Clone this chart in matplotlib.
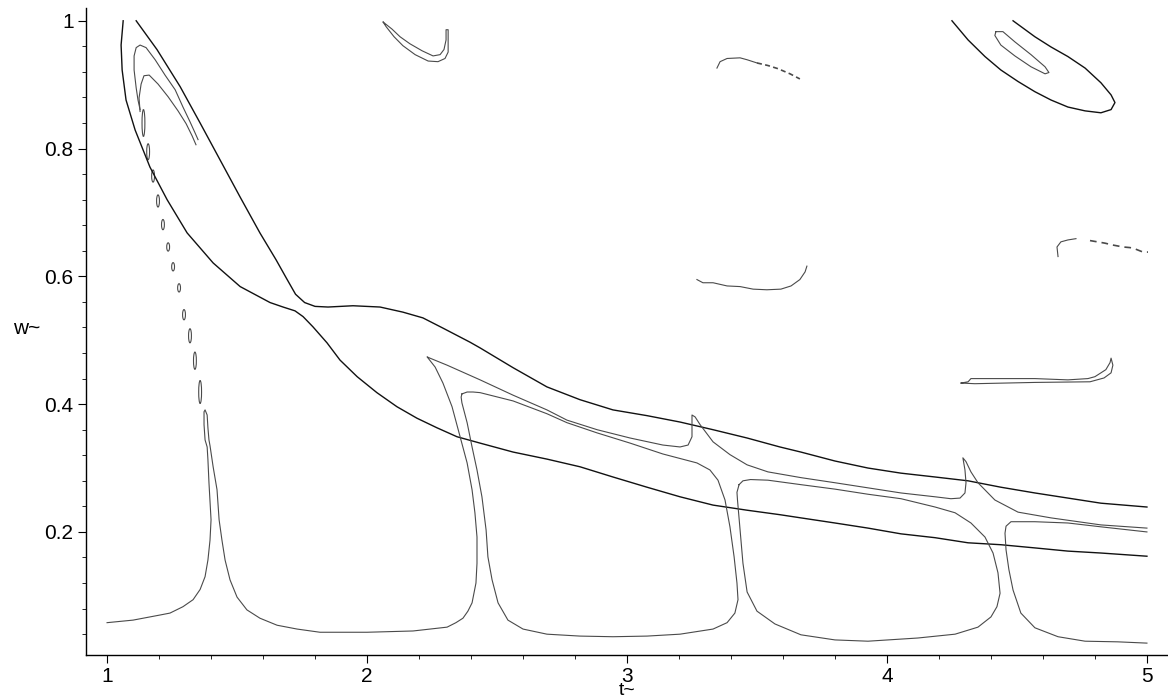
import matplotlib
matplotlib.use("Agg")
import matplotlib.pyplot as plt
from matplotlib.patches import Ellipse
from matplotlib.ticker import MultipleLocator

plt.rcParams['font.family'] = ['Liberation Sans', 'DejaVu Sans']

# --- level curves (t~, w~) ---

# upper dark branch, from the top edge down to t=5
upper_t = [1.112, 1.192, 1.281, 1.358, 1.435, 1.512, 1.588, 1.650, 1.690, 1.725,
           1.760, 1.800, 1.850, 1.946, 2.050, 2.138, 2.215, 2.292, 2.396, 2.435,
           2.562, 2.692, 2.819, 2.946, 3.077, 3.204, 3.331, 3.462, 3.588, 3.669,
           3.800, 3.927, 4.054, 4.185, 4.312, 4.438, 4.569, 4.696, 4.823, 5.000]
upper_w = [1.000, 0.955, 0.897, 0.840, 0.782, 0.724, 0.668, 0.626, 0.597, 0.572,
           0.559, 0.553, 0.552, 0.554, 0.552, 0.544, 0.535, 0.519, 0.497, 0.488,
           0.457, 0.427, 0.407, 0.391, 0.382, 0.372, 0.360, 0.347, 0.333, 0.325,
           0.311, 0.300, 0.292, 0.286, 0.280, 0.270, 0.261, 0.253, 0.245, 0.239]

# lower dark branch
lower_t = [1.062, 1.054, 1.058, 1.073, 1.108, 1.165, 1.231, 1.308, 1.408, 1.512,
           1.627, 1.677, 1.723, 1.754, 1.792, 1.846, 1.896, 1.962, 2.038, 2.115,
           2.192, 2.269, 2.346, 2.435, 2.562, 2.692, 2.819, 2.946, 3.077, 3.204,
           3.331, 3.462, 3.588, 3.669, 3.800, 3.927, 4.054, 4.185, 4.312, 4.438,
           4.569, 4.696, 4.823, 5.000]
lower_w = [1.000, 0.962, 0.923, 0.876, 0.829, 0.771, 0.720, 0.668, 0.621, 0.584,
           0.559, 0.552, 0.546, 0.537, 0.521, 0.496, 0.469, 0.443, 0.418, 0.396,
           0.378, 0.363, 0.349, 0.339, 0.325, 0.314, 0.302, 0.286, 0.270, 0.255,
           0.242, 0.234, 0.227, 0.222, 0.214, 0.206, 0.197, 0.191, 0.183, 0.180,
           0.175, 0.170, 0.167, 0.162]

# long thin curve: spike at 1.4, peak at 2.23, cusps at 3.25 and 4.3
spike_t = [1.000, 1.100, 1.204, 1.242, 1.292, 1.331, 1.358, 1.377, 1.388, 1.396,
           1.400, 1.392, 1.388, 1.385, 1.377, 1.373, 1.373, 1.377, 1.385, 1.388,
           1.392, 1.396, 1.408, 1.423, 1.431, 1.442, 1.454, 1.473, 1.500, 1.538,
           1.588, 1.654, 1.731, 1.819, 2.000, 2.177, 2.308, 2.342, 2.369, 2.388,
           2.404, 2.419, 2.423, 2.423, 2.415, 2.404, 2.385, 2.358, 2.327, 2.292,
           2.262, 2.235, 2.231, 2.242, 2.308, 2.435, 2.562, 2.692, 2.769, 2.885,
           3.012, 3.138, 3.204, 3.235, 3.250, 3.250, 3.262, 3.281, 3.331, 3.396,
           3.462, 3.542, 3.669, 3.800, 3.927, 4.054, 4.185, 4.246, 4.281, 4.300,
           4.304, 4.300, 4.292, 4.304, 4.323, 4.350, 4.415, 4.504, 4.631, 4.823,
           5.000]
spike_w = [0.058, 0.062, 0.070, 0.073, 0.083, 0.094, 0.110, 0.130, 0.156, 0.187,
           0.219, 0.277, 0.313, 0.333, 0.344, 0.368, 0.388, 0.391, 0.383, 0.363,
           0.344, 0.335, 0.302, 0.266, 0.219, 0.187, 0.156, 0.125, 0.098, 0.078,
           0.065, 0.054, 0.048, 0.043, 0.043, 0.045, 0.051, 0.058, 0.065, 0.076,
           0.089, 0.120, 0.151, 0.192, 0.230, 0.266, 0.308, 0.349, 0.396, 0.433,
           0.458, 0.472, 0.474, 0.472, 0.461, 0.438, 0.414, 0.391, 0.375, 0.360,
           0.347, 0.336, 0.333, 0.336, 0.349, 0.383, 0.380, 0.368, 0.341, 0.321,
           0.305, 0.294, 0.285, 0.277, 0.269, 0.261, 0.255, 0.252, 0.253, 0.261,
           0.277, 0.297, 0.316, 0.310, 0.294, 0.277, 0.250, 0.231, 0.222, 0.211,
           0.206]

# closed loop between t=2.36 and 3.43
loop2_t = [2.365, 2.385, 2.408, 2.435, 2.562, 2.692, 2.769, 2.885, 3.012, 3.138,
           3.269, 3.319, 3.350, 3.377, 3.396, 3.412, 3.423, 3.427, 3.415, 3.385,
           3.331, 3.204, 3.077, 2.946, 2.819, 2.692, 2.600, 2.542, 2.504, 2.481,
           2.465, 2.458, 2.442, 2.423, 2.404, 2.385, 2.365, 2.362, 2.365]
loop2_w = [0.416, 0.419, 0.419, 0.418, 0.405, 0.385, 0.371, 0.355, 0.339, 0.322,
           0.308, 0.297, 0.281, 0.250, 0.208, 0.161, 0.120, 0.094, 0.073, 0.058,
           0.048, 0.040, 0.037, 0.036, 0.037, 0.040, 0.048, 0.062, 0.089, 0.125,
           0.161, 0.203, 0.255, 0.297, 0.333, 0.371, 0.402, 0.411, 0.416]

# closed loop between t=3.42 and 4.44
loop3_t = [3.431, 3.446, 3.475, 3.542, 3.669, 3.800, 3.927, 4.054, 4.185, 4.262,
           4.323, 4.377, 4.408, 4.427, 4.435, 4.423, 4.400, 4.350, 4.262, 4.119,
           3.927, 3.800, 3.669, 3.569, 3.500, 3.462, 3.446, 3.435, 3.425, 3.423,
           3.431]
loop3_w = [0.274, 0.280, 0.282, 0.281, 0.274, 0.267, 0.259, 0.252, 0.239, 0.230,
           0.214, 0.192, 0.167, 0.136, 0.104, 0.083, 0.067, 0.051, 0.040, 0.034,
           0.029, 0.031, 0.039, 0.056, 0.076, 0.106, 0.151, 0.203, 0.250, 0.262,
           0.274]

# open loop cut by t=5
loop4_t = [5.000, 4.823, 4.696, 4.569, 4.477, 4.458, 4.454, 4.458, 4.469, 4.485,
           4.515, 4.569, 4.658, 4.762, 4.888, 5.000]
loop4_w = [0.200, 0.208, 0.214, 0.216, 0.216, 0.209, 0.198, 0.172, 0.141, 0.109,
           0.073, 0.050, 0.036, 0.029, 0.028, 0.026]

# two narrow fingers near the top-left corner
finger1_t = [1.127, 1.119, 1.112, 1.104, 1.104, 1.112, 1.127, 1.150, 1.185, 1.223,
             1.262, 1.292, 1.319, 1.338, 1.350]
finger1_w = [0.861, 0.876, 0.895, 0.923, 0.945, 0.958, 0.962, 0.958, 0.939, 0.915,
             0.892, 0.865, 0.842, 0.825, 0.814]
finger2_t = [1.127, 1.123, 1.131, 1.142, 1.162, 1.196, 1.235, 1.273, 1.304, 1.327,
             1.342]
finger2_w = [0.858, 0.879, 0.901, 0.914, 0.915, 0.901, 0.881, 0.859, 0.839, 0.820,
             0.806]

# chain of small islands running down to the spike
island_t = [1.140, 1.158, 1.177, 1.196, 1.215, 1.235, 1.254, 1.277, 1.296, 1.319,
            1.338, 1.358]
island_w = [0.840, 0.795, 0.757, 0.718, 0.681, 0.646, 0.615, 0.582, 0.540, 0.507,
            0.468, 0.419]
island_h = [0.042, 0.025, 0.019, 0.019, 0.016, 0.013, 0.013, 0.013, 0.016, 0.022,
            0.027, 0.036]

# hook near t=2.2 at the top
hook_t = [2.062, 2.096, 2.127, 2.165, 2.212, 2.254, 2.281, 2.296, 2.304, 2.304,
          2.312, 2.312, 2.312, 2.300, 2.273, 2.235, 2.185, 2.138, 2.104, 2.073, 2.062]
hook_w = [0.998, 0.987, 0.975, 0.964, 0.953, 0.945, 0.947, 0.955, 0.970, 0.986,
          0.986, 0.967, 0.951, 0.941, 0.936, 0.937, 0.947, 0.961, 0.975, 0.991, 0.998]

# arc near w=0.93
arc_t = [3.346, 3.358, 3.385, 3.435, 3.462, 3.500]
arc_w = [0.926, 0.936, 0.941, 0.942, 0.939, 0.934]
arc_tail_t = [3.500, 3.542, 3.581, 3.627, 3.665]
arc_tail_w = [0.934, 0.930, 0.925, 0.917, 0.909]

# streak near w=0.58
streak1_t = [3.269, 3.292, 3.331, 3.385, 3.435, 3.485, 3.538, 3.592, 3.631, 3.665,
             3.685, 3.692]
streak1_w = [0.595, 0.590, 0.590, 0.585, 0.584, 0.580, 0.579, 0.580, 0.585, 0.595,
             0.607, 0.616]

# streak near w=0.44
streak2_t = [4.285, 4.312, 4.323, 4.438, 4.569, 4.696, 4.773, 4.800, 4.823, 4.842,
             4.858, 4.862, 4.869, 4.862, 4.835, 4.781, 4.569, 4.338, 4.285]
streak2_w = [0.433, 0.435, 0.440, 0.440, 0.440, 0.438, 0.440, 0.443, 0.449, 0.454,
             0.465, 0.472, 0.461, 0.449, 0.441, 0.435, 0.434, 0.432, 0.433]

# broken arc near w=0.65
arc2_t = [4.658, 4.654, 4.669, 4.696, 4.727]
arc2_w = [0.631, 0.646, 0.654, 0.657, 0.659]
arc2_tail_t = [4.781, 4.838, 4.869, 4.908, 4.935, 4.954, 4.985, 5.004]
arc2_tail_w = [0.656, 0.652, 0.649, 0.646, 0.645, 0.643, 0.638, 0.638]

# nested ovals in the upper right
oval_t = [4.250, 4.312, 4.377, 4.438, 4.504, 4.569, 4.631, 4.696, 4.762, 4.823,
          4.862, 4.877, 4.862, 4.823, 4.762, 4.696, 4.631, 4.569, 4.485]
oval_w = [1.000, 0.970, 0.944, 0.923, 0.905, 0.889, 0.876, 0.865, 0.859, 0.856,
          0.861, 0.872, 0.884, 0.903, 0.926, 0.944, 0.959, 0.975, 1.000]
inner_oval_t = [4.419, 4.446, 4.492, 4.554, 4.608, 4.623, 4.608, 4.554, 4.492, 4.438,
                4.415, 4.419]
inner_oval_w = [0.983, 0.983, 0.967, 0.947, 0.928, 0.919, 0.917, 0.928, 0.945, 0.962,
                0.977, 0.983]

x_ticks = [1, 2, 3, 4, 5]
y_ticks = [0.2, 0.4, 0.6, 0.8, 1.0]
y_tick_labels = ['0.2', '0.4', '0.6', '0.8', '1']

dark = '#111111'
grey = '#4a4a4a'

fig = plt.figure(figsize=(11.68, 7.0), dpi=100)
ax = fig.add_axes([86 / 1168, 45 / 700, 1082 / 1168, 647 / 700])

for tt, ww in [(upper_t, upper_w), (lower_t, lower_w), (oval_t, oval_w)]:
    ax.plot(tt, ww, color=dark, lw=1.0, solid_joinstyle='round')

for tt, ww in [(spike_t, spike_w), (loop2_t, loop2_w), (loop3_t, loop3_w),
               (loop4_t, loop4_w), (finger1_t, finger1_w), (finger2_t, finger2_w),
               (hook_t, hook_w), (arc_t, arc_w), (streak1_t, streak1_w),
               (streak2_t, streak2_w), (arc2_t, arc2_w),
               (inner_oval_t, inner_oval_w)]:
    ax.plot(tt, ww, color=grey, lw=0.8, solid_joinstyle='round')
ax.plot(arc_tail_t, arc_tail_w, color=grey, lw=1.2, linestyle=(0, (3, 2)))
ax.plot(arc2_tail_t, arc2_tail_w, color=grey, lw=1.2, linestyle=(0, (4, 3)))

for ct, cw, h in zip(island_t, island_w, island_h):
    ax.add_patch(Ellipse((ct, cw), 0.011, h, fill=False, edgecolor=grey, lw=0.8))

ax.set_xlim(0.919, 5.081)
ax.set_ylim(0.0074, 1.020)

for side in ('top', 'right'):
    ax.spines[side].set_visible(False)
for side in ('left', 'bottom'):
    ax.spines[side].set_linewidth(1.0)
    ax.spines[side].set_color('black')

ax.set_xticks(x_ticks)
ax.set_xticklabels([str(v) for v in x_ticks])
ax.set_yticks(y_ticks)
ax.set_yticklabels(y_tick_labels)
ax.xaxis.set_minor_locator(MultipleLocator(0.2))
ax.yaxis.set_minor_locator(MultipleLocator(0.04))
ax.tick_params(which='major', length=6, width=0.8, labelsize=15, pad=3)
ax.tick_params(which='minor', length=3, width=0.6)

ax.set_xlabel('t~', fontsize=14, labelpad=-3)
ax.set_ylabel('w~', fontsize=15, rotation=0)
ax.yaxis.set_label_coords(-0.055, 0.49)

fig.savefig('out.png', dpi=100)
